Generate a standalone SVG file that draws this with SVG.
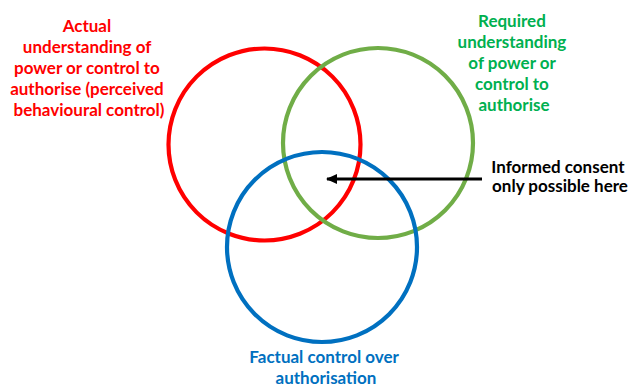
<svg xmlns="http://www.w3.org/2000/svg" width="628" height="390" viewBox="0 0 628 390">
  <style>
    .ring { fill: none; stroke-width: 4.2; }
    .lbl { font-family: Lato, "Open Sans", "Liberation Sans", sans-serif; font-weight: bold; font-size: 17px; text-anchor: middle; }
  </style>
  <defs>
    <marker id="head" markerWidth="12" markerHeight="10" refX="10" refY="5" orient="auto" markerUnits="userSpaceOnUse">
      <path d="M0,0 L11,5 L0,10 Z" fill="#000"/>
    </marker>
  </defs>
  <rect width="628" height="390" fill="#fff"/>

  <g id="actual">
    <circle class="ring" cx="264.5" cy="144.5" r="96" stroke="#ff0000"/>
    <text class="lbl" fill="#ff0000">
      <tspan x="89" y="32">Actual</tspan>
      <tspan x="89" y="53">understanding of</tspan>
      <tspan x="89" y="74">power or control to</tspan>
      <tspan x="89" y="95">authorise (perceived</tspan>
      <tspan x="89" y="116">behavioural control)</tspan>
    </text>
  </g>

  <g id="required">
    <circle class="ring" cx="378" cy="143" r="95" stroke="#70ad47"/>
    <text class="lbl" fill="#00b050">
      <tspan x="514" y="27">Required</tspan>
      <tspan x="514" y="48">understanding</tspan>
      <tspan x="514" y="69">of power or</tspan>
      <tspan x="514" y="90">control to</tspan>
      <tspan x="514" y="111">authorise</tspan>
    </text>
  </g>

  <g id="factual">
    <circle class="ring" cx="322" cy="247" r="95" stroke="#0070c0"/>
    <text class="lbl" fill="#0070c0">
      <tspan x="326" y="363">Factual control over</tspan>
      <tspan x="326" y="384">authorisation</tspan>
    </text>
  </g>

  <g id="consent">
    <text class="lbl" fill="#000">
      <tspan x="560" y="173">Informed consent</tspan>
      <tspan x="560" y="192">only possible here</tspan>
    </text>
  </g>

  <g id="connectors">
    <line x1="482" y1="179" x2="327" y2="179" stroke="#000" stroke-width="3" marker-end="url(#head)"/>
  </g>
</svg>
